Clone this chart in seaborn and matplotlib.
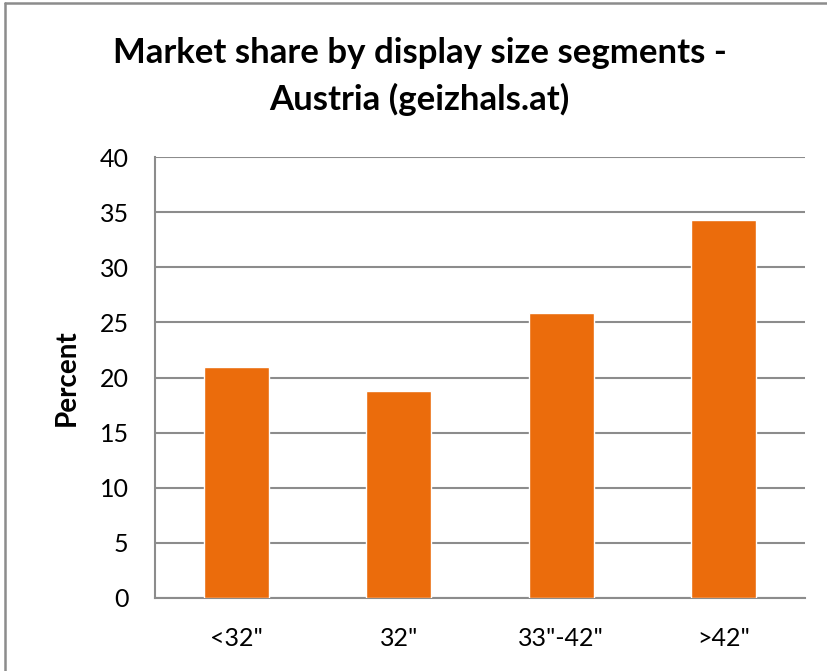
import matplotlib
matplotlib.use("Agg")
import matplotlib.pyplot as plt
import seaborn as sns
import pandas as pd
from matplotlib.lines import Line2D

categories = ['<32"', '32"', '33"-42"', '>42"']
values = [21.0, 18.8, 25.9, 34.3]
yticks = [0, 5, 10, 15, 20, 25, 30, 35, 40]

sns.set_theme(style="white")
plt.rcParams['font.family'] = ['Lato', 'DejaVu Sans']
plt.rcParams['text.color'] = 'black'
plt.rcParams['axes.labelcolor'] = 'black'

df = pd.DataFrame({"segment": categories, "percent": values})

fig = plt.figure(figsize=(8.28, 6.71), dpi=100)
ax = fig.add_axes([0.1872, 0.1095, 0.785, 0.6558])
sns.barplot(data=df, x="segment", y="percent", color="#EB6C0C", saturation=1,
            width=0.4, ax=ax, zorder=3)

ax.set_ylim(0, 40)
ax.set_yticks(yticks)
ax.set_xlim(-0.5, 3.5)
ax.yaxis.grid(True, color="#8c8c8c", linewidth=1.5, zorder=0)
ax.set_axisbelow(True)
for s in ["top", "right"]:
    ax.spines[s].set_visible(False)
for s in ["left", "bottom"]:
    ax.spines[s].set_color("#8c8c8c")
    ax.spines[s].set_linewidth(1.5)
ax.tick_params(axis="y", length=0, pad=19, labelsize=18, labelcolor="black")
ax.tick_params(axis="x", length=0, pad=21, labelsize=18, labelcolor="black")
ax.set_xlabel("")
ax.set_ylabel("Percent", fontsize=20, fontweight="bold", labelpad=14, color="black")

fig.text(0.507, 0.886, "Market share by display size segments -\nAustria (geizhals.at)",
         ha="center", va="center", fontsize=25, fontweight="bold", linespacing=1.5,
         color="black")

# outer chart frame (left and top edges visible in the reference)
fx = 5.5 / 828
fy = 1 - 2.5 / 671
fig.add_artist(Line2D([fx, fx], [0, fy], transform=fig.transFigure,
                      color="#8c8c8c", linewidth=1.8))
fig.add_artist(Line2D([fx, 1], [fy, fy], transform=fig.transFigure,
                      color="#8c8c8c", linewidth=1.8))

fig.savefig("out.png", dpi=100)
